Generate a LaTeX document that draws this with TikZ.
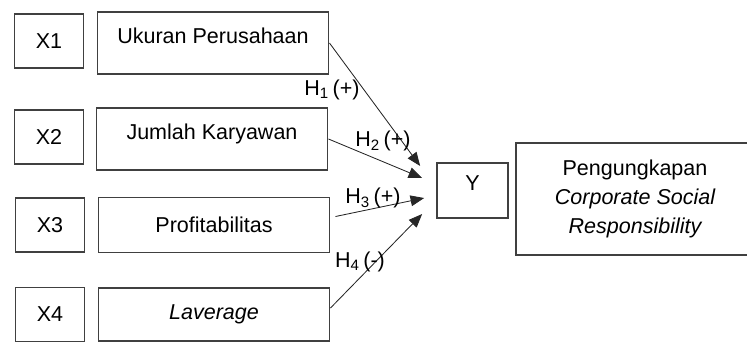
\documentclass[tikz,border=0pt]{standalone}
\usepackage{fontspec}
\setmainfont{Liberation Sans}
\usetikzlibrary{arrows.meta}
\tikzset{
  numbox/.style={draw=black!75, line width=1.2pt, minimum width=1.725cm, minimum height=1.35cm, inner sep=0pt},
  varbox/.style={draw=black!75, line width=1.2pt, minimum width=5.78cm, inner sep=0pt},
  toptext/.style={text height=0.4cm, text depth=0.4cm},
  hyp/.style={black!85, line width=0.6pt, -{Triangle[length=0.34cm,width=0.27cm]}}
}
\begin{document}
\begin{tikzpicture}[x=0.025cm, y=-0.025cm, font=\fontsize{15.3}{20.5}\selectfont]
        \useasboundingbox (0,0) rectangle (747,343);
        % independent variables
        \node[numbox] (x1) at (49,41) {X1} ;
        \node[varbox, minimum height=1.55cm, toptext] (ukuran) at (213,43) {Ukuran Perusahaan} ;
        \node[numbox] (x2) at (49,137) {X2} ;
        \node[varbox, minimum height=1.55cm, toptext] (jumlah) at (212,139) {Jumlah Karyawan} ;
        \node[numbox] (x3) at (50,225) {X3} ;
        \node[varbox, minimum height=1.375cm] (profit) at (214,225) {Profitabilitas} ;
        \node[numbox] (x4) at (50,314.5) {X4} ;
        \node[varbox, minimum height=1.325cm] (laverage) at (214,314.5) {\itshape Laverage} ;
        % dependent variable
        \node[numbox, minimum width=1.775cm, minimum height=1.375cm, toptext] (y) at (472.5,190.5) {Y} ;
        \node[draw=black!75, line width=1.2pt, minimum width=5.95cm, minimum height=2.8cm, align=center] (csr) at (635,199) {Pengungkapan\\\itshape Corporate Social\\\itshape Responsibility} ;
        % hypotheses
        \draw[hyp] (ukuran.east) -- ([shift={(-16,-24.5)}]y.west) ;
        \draw[hyp] (jumlah.east) -- ([shift={(-14,-12.5)}]y.west) ;
        \draw[hyp] ([shift={(5,-8.5)}]profit.east) -- ([shift={(-12,7.5)}]y.west) ;
        \draw[hyp] ([shift={(0,-6.5)}]laverage.east) -- ([shift={(-14,23.5)}]y.west) ;
        \node (h1) at (332,90) {H\textsubscript{1}\,(+)} ;
        \node (h2) at (383,141) {H\textsubscript{2}\,(+)} ;
        \node (h3) at (373,198) {H\textsubscript{3}\,(+)} ;
        \node (h4) at (360,262) {H\textsubscript{4}\,(-)} ;
    \end{tikzpicture}
\end{document}
